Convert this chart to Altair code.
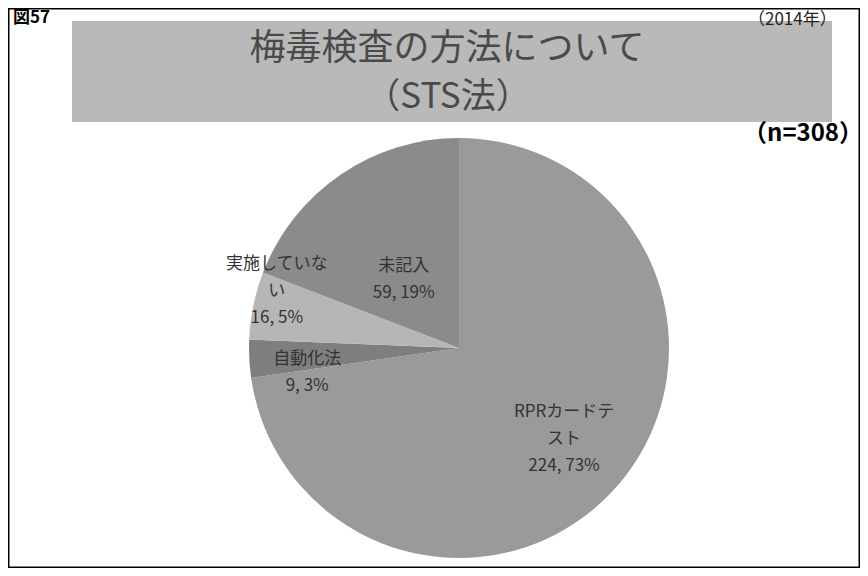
import math
import altair as alt
import pandas as pd

# ---- data ----
categories = ["RPRカードテスト", "自動化法", "実施していない", "未記入"]
counts = [224, 9, 16, 59]
label_names = ["RPRカードテ\nスト", "自動化法", "実施していな\nい", "未記入"]
slice_colors = ["#9a9a9a", "#7e7e7e", "#b6b6b6", "#8b8b8b"]

title_line1 = "梅毒検査の方法について"
title_line2 = "（STS法）"
fig_label = "図57"
year_label = "（2014年）"
n_label = "（n=308）"

total = sum(counts)
df = pd.DataFrame({
    "category": categories,
    "count": counts,
    "order": list(range(len(categories))),
    "label": [f"{n}\n{c}, {round(c * 100 / total)}%" for n, c in zip(label_names, counts)],
})

W, H = 852, 560
cx, cy, R = 451, 340, 210
JP = "Noto Sans CJK JP"
LH = 27

one = alt.Data(values=[{"k": 1}])

frame = alt.Chart(one).mark_rect(fill="white", stroke="black", strokeWidth=2).encode(
    x=alt.value(0.5), x2=alt.value(W - 0.5), y=alt.value(0.5), y2=alt.value(H - 0.5)
)
title_box = alt.Chart(one).mark_rect(fill="#b9b9b9").encode(
    x=alt.value(64), x2=alt.value(824), y=alt.value(13), y2=alt.value(114)
)
t1 = alt.Chart(one).mark_text(font=JP, fontSize=36, color="#4a4a4a", align="center", baseline="middle").encode(
    x=alt.value(439), y=alt.value(41), text=alt.value(title_line1)
)
t2 = alt.Chart(one).mark_text(font=JP, fontSize=35, color="#4a4a4a", align="center", baseline="middle").encode(
    x=alt.value(440), y=alt.value(89), text=alt.value(title_line2)
)
fig = alt.Chart(one).mark_text(font=JP, fontSize=17, fontWeight="bold", color="black", align="left", baseline="top").encode(
    x=alt.value(5), y=alt.value(2), text=alt.value(fig_label)
)
yr = alt.Chart(one).mark_text(font=JP, fontSize=17, color="#222", align="left", baseline="middle").encode(
    x=alt.value(740), y=alt.value(12), text=alt.value(year_label)
)
nl = alt.Chart(one).mark_text(font=JP, fontSize=24, fontWeight="bold", color="black", align="left", baseline="middle").encode(
    x=alt.value(735), y=alt.value(126), text=alt.value(n_label)
)

pie = alt.Chart(df).mark_arc(outerRadius=R).encode(
    theta=alt.Theta("count:Q", stack=True),
    order=alt.Order("order:Q"),
    color=alt.Color("category:N", scale=alt.Scale(domain=categories, range=slice_colors), legend=None),
    x=alt.value(cx),
    y=alt.value(cy),
)

label_base = alt.Chart(df).transform_window(
    cum="sum(count)", sort=[alt.SortField("order")], frame=[None, 0]
).transform_calculate(mid="datum.cum - datum.count / 2")

# (radius, dx, dy) for each label's block centre
placements = {
    "RPRカードテスト": (139, 0, 0),
    "自動化法": (152, 0, 17),
    "実施していない": (186, 0, -19),
    "未記入": (87, -6, 3),
}

label_layers = []
for cat, text in zip(categories, df["label"]):
    r, dx, dy = placements[cat]
    nlines = text.count("\n") + 1
    label_layers.append(
        label_base.transform_filter(alt.datum.category == cat)
        .mark_text(radius=r, dx=dx, dy=dy - (nlines - 1) * LH / 2, lineBreak="\n", lineHeight=LH,
                   font=JP, fontSize=17, color="#333333", align="center", baseline="middle")
        .encode(
            theta=alt.Theta("mid:Q", stack=None, scale=alt.Scale(domain=[0, total], range=[0, 2 * math.pi])),
            text="label:N",
            x=alt.value(cx),
            y=alt.value(cy),
        )
    )

chart = alt.layer(frame, title_box, t1, t2, fig, yr, nl, pie, *label_layers).properties(
    width=W, height=H, autosize=alt.AutoSizeParams(type="none"), padding=0, background="white"
).configure_view(stroke=None)

chart.save("out.html", embed_options={"renderer": "svg", "actions": False})
